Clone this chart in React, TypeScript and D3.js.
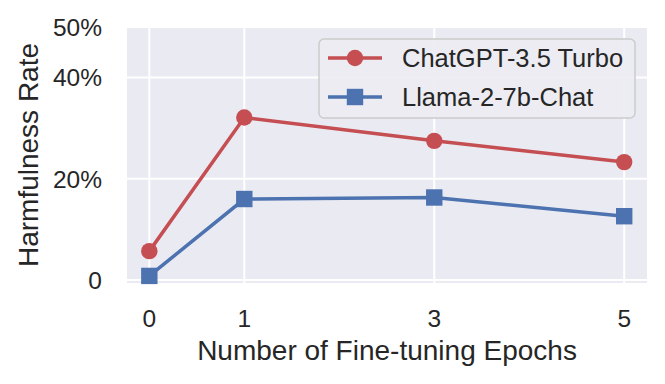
import * as d3 from "d3";

// values (percent)
const epochs = [0, 1, 3, 5];
const chatgptRate = [5.7, 32.1, 27.5, 23.3];
const llamaRate = [0.8, 16.0, 16.3, 12.6];
const yTicks = [0, 20, 40, 50];
const yTickLabels = ["0", "20%", "40%", "50%"];

const W = 665;
const H = 384;
const margin = { top: 27, right: 18, bottom: 101, left: 127 };
const FONT = "'Liberation Sans', Arial, Helvetica, sans-serif";
const TEXT = "#262626";
const RED = "#C44E52";
const BLUE = "#4C72B0";

const series = [
  { name: "ChatGPT-3.5 Turbo", values: chatgptRate, color: RED, marker: "circle" },
  { name: "Llama-2-7b-Chat", values: llamaRate, color: BLUE, marker: "square" },
];

function Marker({ kind, x, y, color }: { kind: string; x: number; y: number; color: string }) {
  if (kind === "circle") return <circle cx={x} cy={y} r={8.2} fill={color} />;
  return <rect x={x - 8.2} y={y - 8.2} width={16.4} height={16.4} fill={color} />;
}

export default function App() {
  const innerW = W - margin.left - margin.right;
  const innerH = H - margin.top - margin.bottom;

  const x = d3.scaleLinear().domain([-0.235, 5.24]).range([0, innerW]);
  const y = d3.scaleLinear().domain([-0.6, 50]).range([innerH, 0]);

  const line = d3
    .line<number>()
    .x((_, i) => x(epochs[i]))
    .y((d) => y(d));

  return (
    <svg width={W} height={H} style={{ position: "absolute", left: 0, top: 0, background: "#fff" }}>
      <g transform={`translate(${margin.left},${margin.top})`} fontFamily={FONT}>
        <rect width={innerW} height={innerH} fill="#EAEAF2" />

        {/* grid */}
        {yTicks.map((t) => (
          <line key={"gy" + t} x1={0} x2={innerW} y1={y(t)} y2={y(t)} stroke="#fff" strokeWidth={2} />
        ))}
        {epochs.map((t) => (
          <line key={"gx" + t} x1={x(t)} x2={x(t)} y1={0} y2={innerH} stroke="#fff" strokeWidth={2} />
        ))}

        {/* tick labels */}
        {yTicks.map((t, i) => (
          <text key={"ty" + t} x={-25} y={y(t)} dy="0.36em" textAnchor="end" fontSize={24.5} fill={TEXT}>
            {yTickLabels[i]}
          </text>
        ))}
        {epochs.map((t) => (
          <text key={"tx" + t} x={x(t)} y={innerH + 44} textAnchor="middle" fontSize={24.5} fill={TEXT}>
            {t}
          </text>
        ))}

        {/* axis labels */}
        <text x={innerW / 2} y={innerH + 77} textAnchor="middle" fontSize={28} fill={TEXT}>
          Number of Fine-tuning Epochs
        </text>
        <text
          transform={`translate(${-89},${innerH / 2}) rotate(-90)`}
          textAnchor="middle"
          fontSize={28}
          fill={TEXT}
        >
          Harmfulness Rate
        </text>

        {/* lines + markers */}
        {series.map((s) => (
          <g key={s.name}>
            <path d={line(s.values) || ""} fill="none" stroke={s.color} strokeWidth={3.5} />
            {s.values.map((v, i) => (
              <Marker key={i} kind={s.marker} x={x(epochs[i])} y={y(v)} color={s.color} />
            ))}
          </g>
        ))}

        {/* legend */}
        <g transform={`translate(${319 - margin.left},${39 - margin.top})`}>
          <rect width={316} height={79} rx={5} fill="#EBEBF2" fillOpacity={0.92} stroke="#cccccc" strokeWidth={1.5} />
          {series.map((s, i) => (
            <g key={s.name} transform={`translate(0,${19 + i * 39})`}>
              <line x1={9} x2={63} y1={0} y2={0} stroke={s.color} strokeWidth={3.5} />
              <Marker kind={s.marker} x={36} y={0} color={s.color} />
              <text x={83} y={0} dy="0.36em" fontSize={25.5} fill={TEXT}>
                {s.name}
              </text>
            </g>
          ))}
        </g>
      </g>
    </svg>
  );
}
